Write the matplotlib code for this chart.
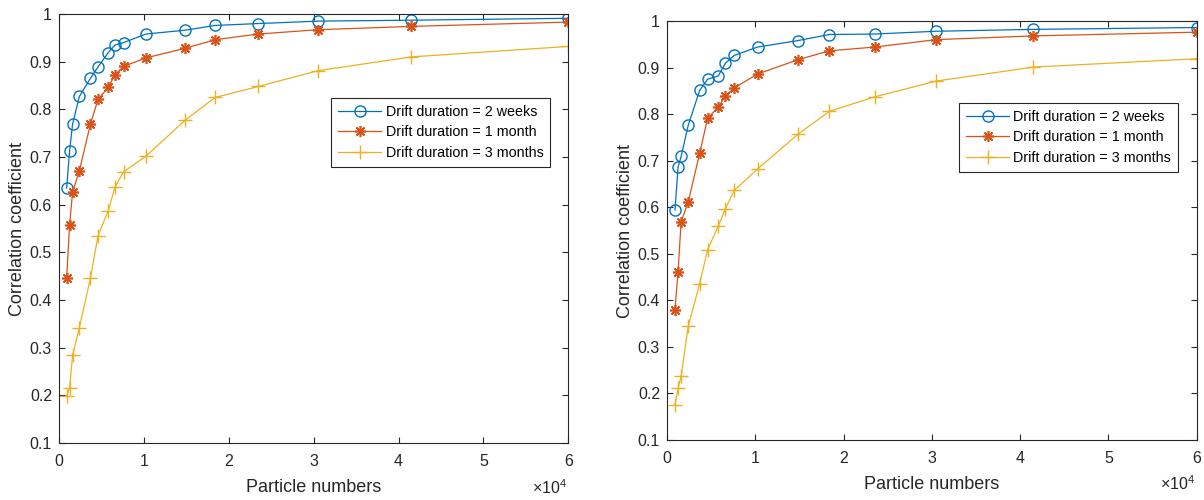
import numpy as np
import matplotlib.pyplot as plt

plt.rcParams['font.family'] = ['Liberation Sans', 'DejaVu Sans']
plt.rcParams['mathtext.fontset'] = 'custom'
plt.rcParams['mathtext.rm'] = 'Liberation Sans'

# particle numbers (same for both panels)
particles = [900, 1250, 1600, 2400, 3700, 4600, 5800, 6600, 7600, 10250,
             14850, 18400, 23500, 30500, 41500, 60000]

labels = ['Drift duration = 2 weeks', 'Drift duration = 1 month',
          'Drift duration = 3 months']

# left panel
left_2w = [0.635, 0.713, 0.769, 0.827, 0.865, 0.889, 0.919, 0.935, 0.940, 0.958,
           0.966, 0.976, 0.980, 0.985, 0.987, 0.991]
left_1m = [0.446, 0.558, 0.626, 0.671, 0.769, 0.821, 0.846, 0.873, 0.890, 0.908,
           0.928, 0.946, 0.958, 0.967, 0.974, 0.983]
left_3m = [0.198, 0.216, 0.284, 0.342, 0.446, 0.535, 0.587, 0.637, 0.669, 0.702,
           0.777, 0.825, 0.848, 0.881, 0.910, 0.932]

# right panel
right_2w = [0.594, 0.686, 0.709, 0.776, 0.851, 0.875, 0.882, 0.909, 0.926, 0.944,
            0.958, 0.971, 0.972, 0.978, 0.982, 0.986]
right_1m = [0.380, 0.461, 0.569, 0.611, 0.716, 0.791, 0.815, 0.838, 0.856, 0.886,
            0.917, 0.936, 0.944, 0.960, 0.968, 0.976]
right_3m = [0.175, 0.211, 0.237, 0.344, 0.436, 0.509, 0.559, 0.596, 0.636, 0.682,
            0.757, 0.806, 0.837, 0.871, 0.901, 0.919]

colors = ['#0072BD', '#D95319', '#EDB120']
markers = [dict(marker='o', ms=8, mfc='none', mew=1.0),
           dict(marker=(8, 2, 0), ms=8, mew=1.2),
           dict(marker='+', ms=10, mew=1.0)]

fig = plt.figure(figsize=(12.04, 5.0), dpi=100)
ax1 = fig.add_axes([0.049, 0.114, 0.423, 0.858])
ax2 = fig.add_axes([0.554, 0.120, 0.440, 0.838])

x = np.array(particles) / 1e4
for ax, series in ((ax1, (left_2w, left_1m, left_3m)),
                   (ax2, (right_2w, right_1m, right_3m))):
    for ys, c, m, lab in zip(series, colors, markers, labels):
        ax.plot(x, ys, color=c, lw=0.9, label=lab, **m)
    ax.set_xlim(0, 6)
    ax.set_ylim(0.1, 1)
    ax.set_xticks(range(7))
    ax.set_yticks(np.arange(0.1, 1.01, 0.1))
    ax.set_yticklabels(['0.1', '0.2', '0.3', '0.4', '0.5', '0.6', '0.7', '0.8', '0.9', '1'])
    ax.tick_params(direction='in', length=4, width=0.8, labelsize=11.5, colors='#262626',
                   top=True, right=True)
    ax.tick_params(axis='x', pad=8)
    ax.tick_params(axis='y', pad=5)
    for s in ax.spines.values():
        s.set_color('#262626')
        s.set_linewidth(0.8)
    ax.set_xlabel('Particle numbers', fontsize=13, color='#262626', labelpad=7)
    ax.set_ylabel('Correlation coefficient', fontsize=13, color='#262626', labelpad=3)
    ax.text(0.997, -0.105, r'$\times 10^4$', transform=ax.transAxes, ha='right', va='center',
            fontsize=11.5, color='#262626')
    leg = ax.legend(loc='upper right', bbox_to_anchor=(0.965, 0.805), fontsize=10.3,
                    fancybox=False, framealpha=1, edgecolor='#262626',
                    borderpad=0.5, handlelength=3.0, labelspacing=0.45,
                    handletextpad=0.3, borderaxespad=0)
    leg.get_frame().set_linewidth(0.8)

fig.savefig('out.png', dpi=100)
